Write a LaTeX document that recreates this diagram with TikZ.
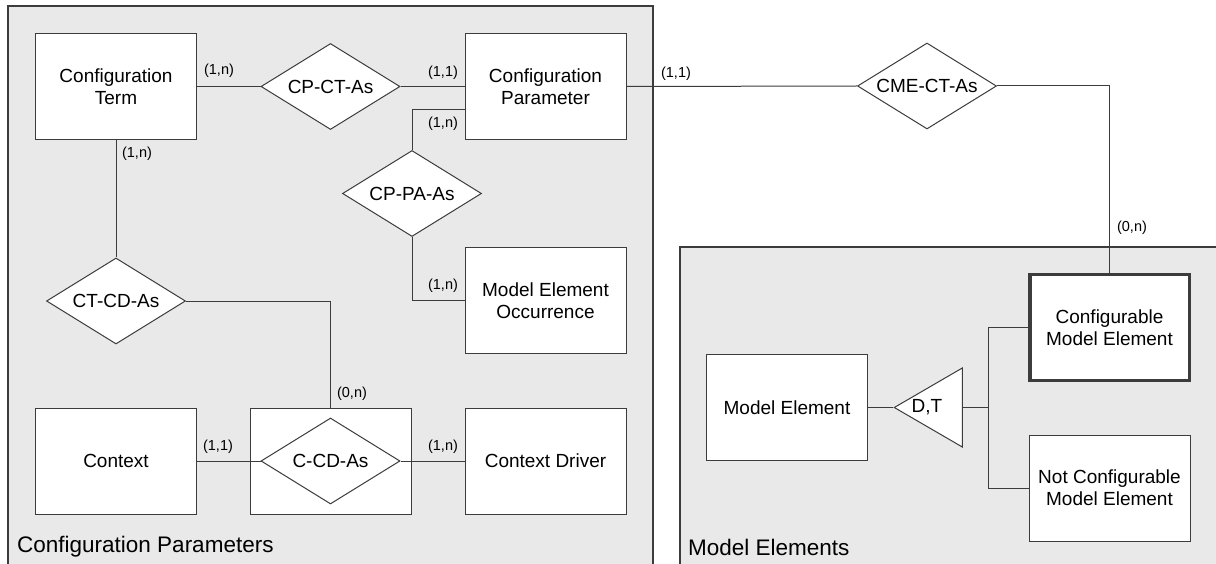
\documentclass[tikz,border=0pt]{standalone}
\usepackage{fontspec}
\setmainfont{Liberation Sans}
\definecolor{panelgray}{RGB}{233,233,233}
\definecolor{linegray}{RGB}{60,60,60}
\usetikzlibrary{shapes.geometric, positioning}

\begin{document}
\begin{tikzpicture}[x=1pt, y=-1pt,
    entity/.style={rectangle, draw=linegray, fill=white, line width=1pt, minimum width=161pt, minimum height=106pt, align=center, inner sep=0pt, font=\fontsize{19}{22}\selectfont},
    relation/.style={diamond, aspect=1.63, draw=linegray, fill=white, line width=1pt, minimum width=139pt, minimum height=86pt, inner sep=0pt, font=\fontsize{19}{22}\selectfont},
    gen/.style={isosceles triangle, isosceles triangle stretches, shape border rotate=180, draw=linegray, fill=white, line width=1pt, minimum width=79pt, minimum height=68pt, inner sep=0pt},
    card/.style={inner sep=0pt, font=\fontsize{14.5}{17}\selectfont},
    link/.style={draw=linegray, line width=1pt},
    panel/.style={draw=linegray, fill=panelgray, line width=1.5pt},
    title/.style={anchor=west, inner sep=0pt, font=\fontsize{22.5}{27}\selectfont}]
    \useasboundingbox (0,0) rectangle (1216,564);

    % Group panels
    \draw[panel] (8,6) rectangle (653,575);
    \draw[panel] (680,247) rectangle (1225,575);
    \node[title] (cptitle) at (17,547) {Configuration Parameters};
    \node[title] (metitle) at (688,547) {Model Elements};

    % Configuration parameter entities
    \node[entity] (term) at (116,86.5) {Configuration\\Term};
    \node[relation] (cpct) at (330.5,86.5) {CP-CT-As};
    \node[entity] (param) at (545.5,86.5) {Configuration\\Parameter};
    \node[relation] (cppa) at (412,193.5) {CP-PA-As};
    \node[entity] (occ) at (545.5,300.5) {Model Element\\Occurrence};
    \node[relation] (ctcd) at (116,301) {CT-CD-As};
    \node[entity] (context) at (116,461) {Context};
    \node[entity] (ccd) at (330.5,461) {};
    \node[relation] (ccdrel) at (ccd.center) {C-CD-As};
    \node[entity] (driver) at (545.5,461) {Context Driver};

    % Model element entities
    \node[relation] (cmect) at (927,86) {CME-CT-As};
    \node[entity, line width=3.5pt, minimum width=159.5pt, minimum height=105.5pt] (cme) at (1109.5,327.5) {Configurable\\Model Element};
    \node[entity] (me) at (787,407.5) {Model Element};
    \node[gen, anchor=apex] (dt) at (893,407.5) {};
    \node[font=\fontsize{19}{22}\selectfont, inner sep=0pt] (dtlabel) at (927,407.5) {D,T};
    \node[entity] (ncme) at (1109.5,488) {Not Configurable\\Model Element};
    \coordinate (fork) at (988,407.5);

    % Connectors
    \draw[link] (term.east) -- (cpct.west);
    \draw[link] (cpct.east) -- (param.west);
    \draw[link] (term.south) -- (ctcd.north);
    \draw[link] (ctcd.east) -| (ccd.north);
    \draw[link] (cppa.north) |- ([yshift=-23.5pt]param.west);
    \draw[link] (cppa.south) |- (occ.west);
    \draw[link] (context.east) -- (ccdrel.west);
    \draw[link] (ccdrel.east) -- (driver.west);
    \draw[link] (param.east) -- (cmect.west);
    \draw[link] (cmect.east) -| (cme.north);
    \draw[link] (me.east) -- (dt.apex);
    \draw[link, line width=1.5pt] (dt.lower side) -- (fork);
    \draw[link] (cme.west) -| (fork) |- (ncme.west);

    % Cardinalities
    \node[card] (c1) at (219,71) {(1,n)};
    \node[card] (c2) at (443,73) {(1,1)};
    \node[card] (c3) at (137,154) {(1,n)};
    \node[card] (c4) at (443,124) {(1,n)};
    \node[card] (c5) at (443,286) {(1,n)};
    \node[card] (c6) at (352,394) {(0,n)};
    \node[card] (c7) at (218,447) {(1,1)};
    \node[card] (c8) at (443,447) {(1,n)};
    \node[card] (c9) at (676,74) {(1,1)};
    \node[card] (c10) at (1132,228) {(0,n)};
\end{tikzpicture}
\end{document}
